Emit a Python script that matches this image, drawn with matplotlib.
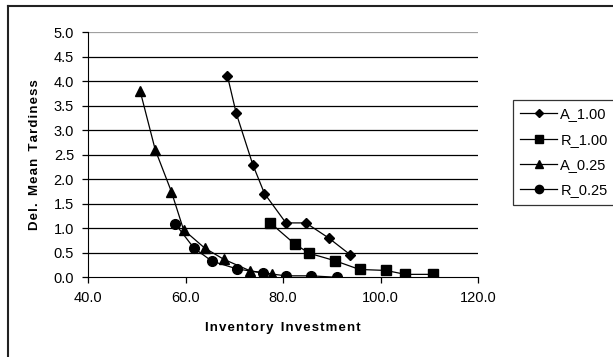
import matplotlib.pyplot as plt
from matplotlib.lines import Line2D

# series
a100_x = [68.6, 70.4, 73.8, 76.2, 80.6, 84.7, 89.4, 93.8]
a100_y = [4.11, 3.35, 2.30, 1.71, 1.11, 1.11, 0.80, 0.46]

r100_x = [77.4, 82.4, 85.4, 90.6, 95.7, 101.1, 105.1, 110.8]
r100_y = [1.11, 0.68, 0.49, 0.34, 0.16, 0.14, 0.06, 0.06]

a025_x = [50.7, 53.8, 57.1, 59.6, 63.9, 67.8, 73.3, 77.7]
a025_y = [3.80, 2.60, 1.75, 0.97, 0.60, 0.37, 0.13, 0.07]

r025_x = [57.9, 61.7, 65.4, 70.6, 75.8, 80.6, 85.7, 91.1]
r025_y = [1.09, 0.60, 0.33, 0.17, 0.09, 0.03, 0.03, 0.00]

x_ticks = [40, 60, 80, 100, 120]
y_ticks = [0.0, 0.5, 1.0, 1.5, 2.0, 2.5, 3.0, 3.5, 4.0, 4.5, 5.0]


def spaced(s):
    # mimic the wide letter tracking of the original labels
    return '\u200a'.join(s).replace('\u200a \u200a', '  ')


plt.rcParams['font.family'] = ['Liberation Sans', 'DejaVu Sans']

fig = plt.figure(figsize=(6.13, 3.57), dpi=100)
ax = fig.add_axes([88 / 613, 1 - 277.3 / 357, 390 / 613, 245 / 357])

for y in y_ticks[1:]:
    ax.axhline(y, color='#a0a0a0' if y == 5.0 else 'black', lw=0.9, zorder=1)

ax.plot(a100_x, a100_y, color='black', lw=0.9, marker='D', ms=5, label='A_1.00', zorder=3)
ax.plot(r100_x, r100_y, color='black', lw=0.9, marker='s', ms=7, label='R_1.00', zorder=3)
ax.plot(a025_x, a025_y, color='black', lw=0.9, marker='^', ms=7, label='A_0.25', zorder=3)
ax.plot(r025_x, r025_y, color='black', lw=0.9, marker='o', ms=7, label='R_0.25', zorder=3)

ax.set_xlim(40, 120)
ax.set_ylim(0, 5)
ax.set_xticks(x_ticks)
ax.set_xticklabels([f'{v:.1f}' for v in x_ticks])
ax.set_yticks(y_ticks)
ax.set_yticklabels([f'{v:.1f}' for v in y_ticks])
ax.tick_params(labelsize=10.5, length=4, width=0.9, direction='out', pad=6)
ax.spines['top'].set_visible(False)
ax.spines['right'].set_visible(False)

ax.set_xlabel(spaced('Inventory Investment'), fontsize=9.5, fontweight='bold', labelpad=12)
ax.set_ylabel(spaced('Del. Mean Tardiness'), fontsize=9.5, fontweight='bold', labelpad=9)

leg = ax.legend(loc='upper left', bbox_to_anchor=(513 / 613, 1 - 100 / 357),
                bbox_transform=fig.transFigure, frameon=True, fancybox=False,
                edgecolor='black', fontsize=10.5, handlelength=2.5, handletextpad=0.25,
                labelspacing=0.78, borderpad=0.5, borderaxespad=0, markerscale=0.85)
leg.get_frame().set_linewidth(0.9)

# chart-area border: only left and top edges visible
fig.add_artist(Line2D([8 / 613, 8 / 613], [0, 1 - 5.5 / 357], transform=fig.transFigure,
                      color='#222222', lw=1.5))
fig.add_artist(Line2D([8 / 613, 1], [1 - 5.5 / 357, 1 - 5.5 / 357], transform=fig.transFigure,
                      color='#222222', lw=1.5))

plt.savefig('out.png', dpi=100)
